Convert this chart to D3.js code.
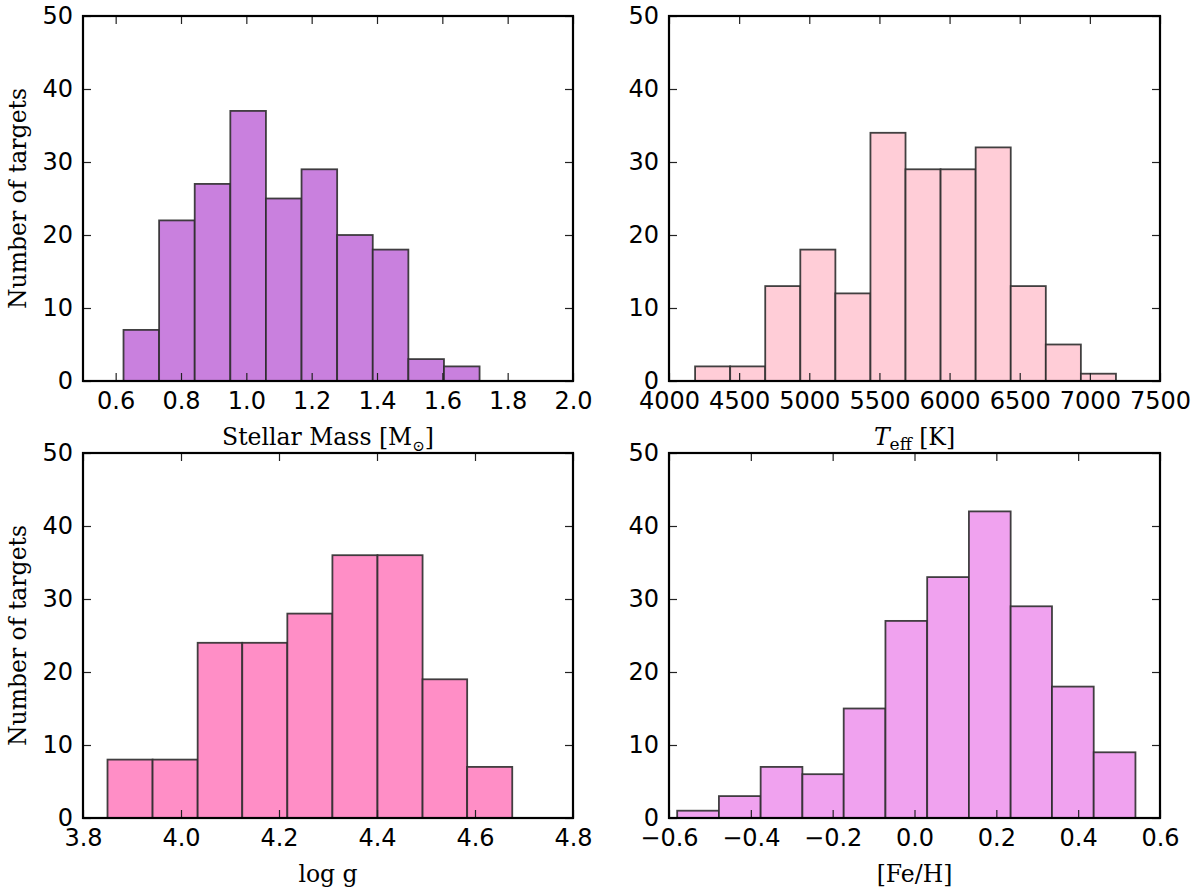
<!DOCTYPE html>
<html>
<head>
<meta charset="utf-8">
<script src="https://cdn.jsdelivr.net/npm/d3@7"></script>
<style>
  html, body { margin: 0; padding: 0; background: #fff; }
  svg { display: block; }
  .tick text { font-family: "DejaVu Sans", sans-serif; font-size: 24px; fill: #000; }
  .axlabel { font-family: "DejaVu Serif", serif; font-size: 23.5px; fill: #000; }
</style>
</head>
<body>
<svg id="chart" width="1200" height="896"></svg>
<script>
// ---- Data ----
const massEdges  = [0.624, 0.733, 0.842, 0.951, 1.060, 1.169, 1.278, 1.387, 1.496, 1.605, 1.714];
const massCounts = [7, 22, 27, 37, 25, 29, 20, 18, 3, 2];
const massTicks  = [0.6, 0.8, 1.0, 1.2, 1.4, 1.6, 1.8, 2.0];

const teffEdges  = [4186, 4436, 4686, 4936, 5186, 5436, 5686, 5936, 6186, 6436, 6686, 6936, 7186];
const teffCounts = [2, 2, 13, 18, 12, 34, 29, 29, 32, 13, 5, 1];
const teffTicks  = [4000, 4500, 5000, 5500, 6000, 6500, 7000, 7500];

const loggEdges  = [3.850, 3.942, 4.034, 4.125, 4.217, 4.309, 4.401, 4.493, 4.584, 4.676];
const loggCounts = [8, 8, 24, 24, 28, 36, 36, 19, 7];
const loggTicks  = [3.8, 4.0, 4.2, 4.4, 4.6, 4.8];

const fehEdges   = [-0.580, -0.478, -0.376, -0.274, -0.173, -0.071, 0.031, 0.133, 0.235, 0.336, 0.438, 0.540];
const fehCounts  = [1, 3, 7, 6, 15, 27, 33, 42, 29, 18, 9];
const fehTicks   = [-0.6, -0.4, -0.2, 0.0, 0.2, 0.4, 0.6];

const yTicks = [0, 10, 20, 30, 40, 50];

const panels = [
  { edges: massEdges, counts: massCounts, ticks: massTicks, domain: [0.5, 2.0], fmt: d3.format(".1f"),
    fill: "#c980de", x0: 83, y0: 16, w: 490, h: 365, ylabel: true, label: "mass" },
  { edges: teffEdges, counts: teffCounts, ticks: teffTicks, domain: [4000, 7500], fmt: d3.format("d"),
    fill: "#ffcdd7", x0: 669, y0: 16, w: 491, h: 365, ylabel: false, label: "teff" },
  { edges: loggEdges, counts: loggCounts, ticks: loggTicks, domain: [3.8, 4.8], fmt: d3.format(".1f"),
    fill: "#ff8ec6", x0: 83, y0: 453, w: 490, h: 365, ylabel: true, label: "logg" },
  { edges: fehEdges, counts: fehCounts, ticks: fehTicks, domain: [-0.6, 0.6], fmt: v => d3.format(".1f")(v).replace("-", "\u2212"),
    fill: "#f0a2ef", x0: 669, y0: 453, w: 491, h: 365, ylabel: false, label: "feh" }
];

const svg = d3.select("#chart");

panels.forEach(p => {
  const W = p.w, H = p.h;
  const g = svg.append("g").attr("transform", `translate(${p.x0},${p.y0})`);
  const x = d3.scaleLinear().domain(p.domain).range([0, W]);
  const y = d3.scaleLinear().domain([0, 50]).range([H, 0]);

  const bins = p.counts.map((c, i) => ({ x0: p.edges[i], x1: p.edges[i + 1], c }));
  g.selectAll("rect.bar").data(bins).enter().append("rect")
    .attr("class", "bar")
    .attr("x", d => x(d.x0))
    .attr("y", d => y(d.c))
    .attr("width", d => x(d.x1) - x(d.x0))
    .attr("height", d => y(0) - y(d.c))
    .attr("fill", p.fill)
    .attr("stroke", "#2e2e2e")
    .attr("stroke-opacity", 0.9)
    .attr("stroke-width", 1.8);

  // Axes with inward ticks
  const xb = d3.axisBottom(x).tickValues(p.ticks).tickFormat(p.fmt).tickSizeInner(-8).tickSizeOuter(0).tickPadding(11);
  const xt = d3.axisTop(x).tickValues(p.ticks).tickFormat("").tickSizeInner(-8).tickSizeOuter(0);
  const yl = d3.axisLeft(y).tickValues(yTicks).tickFormat(d3.format("d")).tickSizeInner(-8).tickSizeOuter(0).tickPadding(10);
  const yr = d3.axisRight(y).tickValues(yTicks).tickFormat("").tickSizeInner(-8).tickSizeOuter(0);

  const ax = [
    g.append("g").attr("transform", `translate(0,${H})`).call(xb),
    g.append("g").call(xt),
    g.append("g").call(yl),
    g.append("g").attr("transform", `translate(${W},0)`).call(yr)
  ];
  ax.forEach(a => {
    a.select(".domain").remove();
    a.selectAll(".tick line").attr("stroke", "#222").attr("stroke-width", 1.2);
  });
  // spine
  g.append("rect").attr("x", 0).attr("y", 0).attr("width", W).attr("height", H)
    .attr("fill", "none").attr("stroke", "#000").attr("stroke-width", 2.2);

  // y label
  if (p.ylabel) {
    svg.append("text").attr("class", "axlabel")
      .attr("transform", `translate(26,${p.y0 + H / 2}) rotate(-90)`)
      .attr("text-anchor", "middle")
      .text("Number of targets");
  }

  // x labels
  const lx = p.x0 + W / 2;
  const ly = p.y0 + H + 64;
  const t = svg.append("text").attr("class", "axlabel").attr("x", lx).attr("y", ly).attr("text-anchor", "middle");
  if (p.label === "mass") {
    t.append("tspan").text("Stellar Mass [M");
    t.append("tspan").attr("font-size", "15px").attr("dy", 6).text("\u2299");
    t.append("tspan").attr("dy", -6).text("]");
  } else if (p.label === "teff") {
    t.attr("font-family", "'Liberation Serif', serif").attr("font-size", "26px");
    t.append("tspan").attr("font-style", "italic").text("T");
    t.append("tspan").attr("font-size", "17px").attr("dy", 5).text("eff");
    t.append("tspan").attr("dy", -5).text(" [K]");
  } else if (p.label === "logg") {
    t.text("log g");
  } else {
    t.text("[Fe/H]");
  }
});
</script>
</body>
</html>
